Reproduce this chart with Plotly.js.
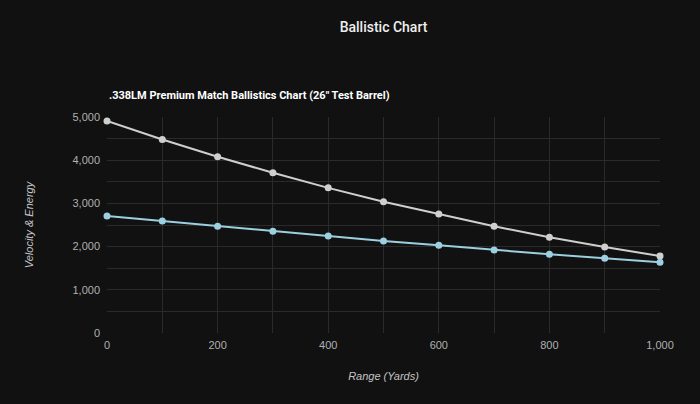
<!DOCTYPE html>
<html>
<head>
<meta charset="utf-8">
<script src="https://cdn.plot.ly/plotly-3.0.1.min.js"></script>
<style>html,body{margin:0;padding:0;background:#111111;}#chart{width:700px;height:404px;}</style>
</head>
<body>
<div id="chart"></div>
<script>
const rangeYards = [0, 100, 200, 300, 400, 500, 600, 700, 800, 900, 1000];
const energy = [4910, 4480, 4080, 3710, 3360, 3040, 2755, 2470, 2218, 1991, 1782];
const velocity = [2710, 2593, 2470, 2355, 2245, 2130, 2030, 1921, 1822, 1729, 1637];

const traces = [
  {x: rangeYards, y: energy, name: 'Energy', type: 'scatter', mode: 'lines+markers', cliponaxis: false,
   line: {color: '#cfcfcf', width: 2}, marker: {color: '#cfcfcf', size: 7}},
  {x: rangeYards, y: velocity, name: 'Velocity', type: 'scatter', mode: 'lines+markers', cliponaxis: false,
   line: {color: '#9ccfe0', width: 2}, marker: {color: '#9ccfe0', size: 7}}
];

const tickFont = {family: '"Liberation Sans", Arial, sans-serif', size: 11, color: '#b0b0b0'};
const axisTitleFont = {family: '"Liberation Sans", Arial, sans-serif', size: 11, color: '#c4c4c4', style: 'italic'};

const layout = {
  width: 700, height: 404,
  paper_bgcolor: '#111111', plot_bgcolor: '#111111',
  margin: {l: 107, r: 40, t: 117, b: 71},
  showlegend: false,
  font: {family: 'Roboto, Arial, sans-serif', color: '#a8a8a8', size: 11},
  title: {text: 'Ballistic Chart', x: 0.5, xref: 'paper', y: 0.945, yref: 'container',
          font: {family: 'Roboto, Arial, sans-serif', size: 14, color: '#eeeeee', weight: 500}},
  xaxis: {
    range: [0, 1000], dtick: 200, tickformat: ',d', showline: false, zeroline: false,
    gridcolor: '#2a2a2a', ticks: '', ticklabelstandoff: 4, tickfont: tickFont,
    minor: {dtick: 100, showgrid: true, gridcolor: '#2a2a2a'},
    title: {text: 'Range (Yards)', standoff: 22, font: axisTitleFont}
  },
  yaxis: {
    range: [0, 5000], dtick: 1000, tickformat: ',d', showline: false, zeroline: false,
    gridcolor: '#2a2a2a', ticks: '', ticklabelstandoff: 6, tickfont: tickFont,
    minor: {dtick: 500, showgrid: true, gridcolor: '#2a2a2a'},
    title: {text: 'Velocity &amp; Energy', standoff: 36, font: axisTitleFont}
  },
  annotations: [{
    text: '.338LM Premium Match Ballistics Chart (26" Test Barrel)',
    xref: 'paper', yref: 'paper', x: 0, y: 1.0, yshift: 22, xanchor: 'left', yanchor: 'middle',
    showarrow: false, font: {family: 'Roboto, Arial, sans-serif', size: 11, color: '#ffffff', weight: 'bold'}
  }]
};

Plotly.newPlot('chart', traces, layout, {displayModeBar: false, staticPlot: true});
</script>
</body>
</html>
